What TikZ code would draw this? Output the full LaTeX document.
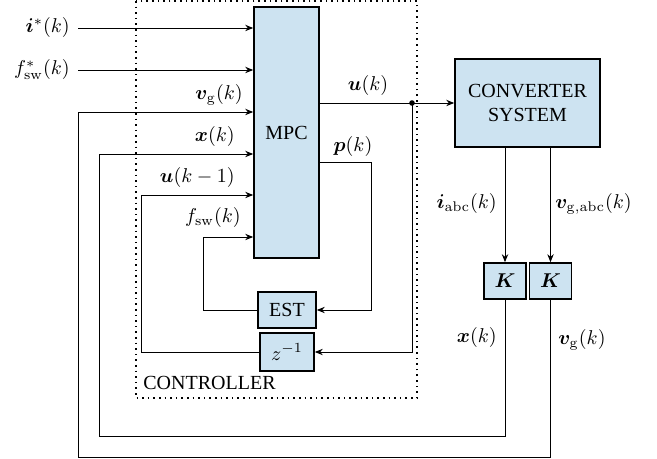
\documentclass[tikz,border=0pt]{standalone}
\usepackage{amsmath,bm}
\usepackage[no-math]{fontspec}
\setmainfont{Liberation Serif}
\usetikzlibrary{arrows.meta}
\definecolor{boxblue}{HTML}{CDE3F1}
\begin{document}
\begin{tikzpicture}[x=0.5pt,y=-0.5pt,
  blk/.style={draw,line width=0.8pt,fill=boxblue,inner sep=0pt,align=center},
  conn/.style={line width=0.45pt},
  arr/.style={conn,-{Stealth[length=4pt,width=3.2pt]}},
  lbl/.style={inner sep=1pt}]
\useasboundingbox (0,0) rectangle (657,459);
% controller frame
\draw[line width=0.8pt,dotted] (136,1) rectangle (417,398);
\node[lbl,anchor=west] (ctrllbl) at (141,383) {CONTROLLER};
% blocks
\node[blk,minimum width=32.5pt,minimum height=125.5pt] (mpc) at (286.5,132.5) {MPC};
\node[blk,minimum width=72.5pt,minimum height=44pt] (conv) at (527.5,103) {CONVERTER\\SYSTEM};
\node[blk,minimum width=29pt,minimum height=18pt] (est) at (287,310) {EST};
\node[blk,minimum width=27pt,minimum height=19pt] (zinv) at (287,352) {$z^{-1}$};
\node[blk,minimum width=21pt,minimum height=18pt] (k1) at (505,281) {$\bm{K}$};
\node[blk,minimum width=21pt,minimum height=18pt] (k2) at (550.5,281) {$\bm{K}$};
% external inputs
\node[lbl,anchor=east] (li) at (72,28) {$\bm{i}^{*}(k)$};
\node[lbl,anchor=east] (lf) at (72,70) {$f^{*}_{\mathrm{sw}}(k)$};
\draw[arr] (li.east) ++(6,0) coordinate (ist) -- (ist -| mpc.west);
\draw[arr] (lf.east) ++(6,0) coordinate (fst) -- (fst -| mpc.west);
% feedback coordinates
\coordinate (vgc) at (78,112);
\coordinate (xc) at (99,154);
\coordinate (uc) at (141,195);
\coordinate (fc) at (203,237);
\coordinate (xbot) at (99,436);
\coordinate (vbot) at (78,457);
\coordinate (jn) at (412,103);
\coordinate (pc) at (371,162);
% labels on MPC inputs
\node[lbl,anchor=east] (lvg) at (245,95) {$\bm{v}_{\mathrm{g}}(k)$};
\node[lbl,anchor=east] (lx) at (237,137) {$\bm{x}(k)$};
\node[lbl,anchor=east] (lu1) at (237,178) {$\bm{u}(k-1)$};
\node[lbl,anchor=east] (lfs) at (243,218) {$f_{\mathrm{sw}}(k)$};
% outputs of MPC
\draw[conn] (mpc.east |- jn) -- (jn);
\draw[arr] (jn) -- (jn -| conv.west);
\fill (jn) circle (1.4pt);
\node[lbl] (lu) at (368,86) {$\bm{u}(k)$};
\draw[arr] (mpc.east |- pc) -- (pc) -- (pc |- est.east) -- (est.east);
\node[lbl] (lp) at (353,147) {$\bm{p}(k)$};
\draw[arr] (jn) -- (jn |- zinv.east) -- (zinv.east);
% internal feedback
\draw[arr] (est.west) -- (est.west -| fc) -- (fc) -- (fc -| mpc.west);
\draw[arr] (zinv.west) -- (zinv.west -| uc) -- (uc) -- (uc -| mpc.west);
% plant measurements
\draw[arr] (k1.north |- conv.south) -- (k1.north);
\draw[arr] (k2.north |- conv.south) -- (k2.north);
\node[lbl,anchor=east] (liabc) at (499,204) {$\bm{i}_{\mathrm{abc}}(k)$};
\node[lbl,anchor=west] (lvabc) at (553,204) {$\bm{v}_{\mathrm{g,abc}}(k)$};
% outer feedback
\draw[arr] (k1.south) |- (xbot) -- (xc) -- (xc -| mpc.west);
\draw[arr] (k2.south) |- (vbot) -- (vgc) -- (vgc -| mpc.west);
\node[lbl,anchor=east] (lxk) at (499,337) {$\bm{x}(k)$};
\node[lbl,anchor=west] (lvgk) at (556,340) {$\bm{v}_{\mathrm{g}}(k)$};
\end{tikzpicture}
\end{document}
